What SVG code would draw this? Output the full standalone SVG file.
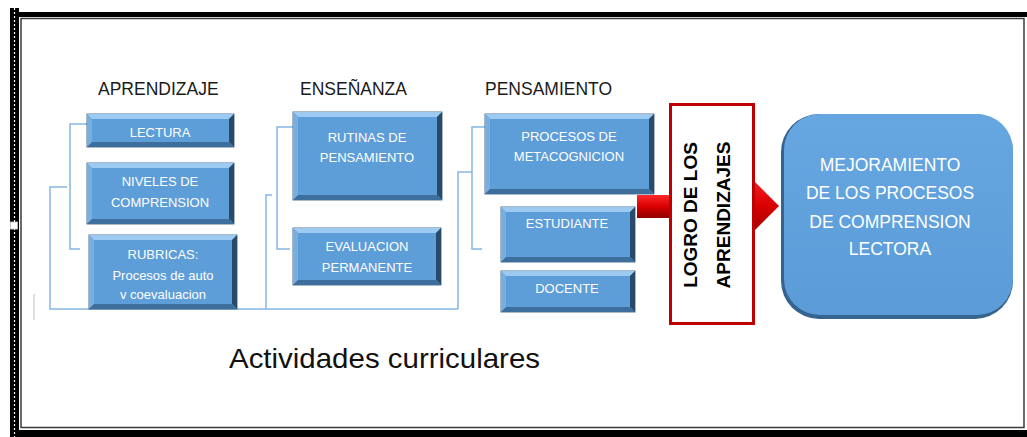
<svg xmlns="http://www.w3.org/2000/svg" width="1027" height="437" viewBox="0 0 1027 437">
<defs>
<linearGradient id="redV" x1="0" y1="0" x2="0" y2="1">
<stop offset="0" stop-color="#ff2a2a"/>
<stop offset="0.5" stop-color="#d80000"/>
<stop offset="1" stop-color="#900000"/>
</linearGradient>
<linearGradient id="bigFill" x1="0" y1="0" x2="0" y2="1">
<stop offset="0" stop-color="#66a7e2"/>
<stop offset="1" stop-color="#5b9cd8"/>
</linearGradient>
</defs>
<style>
.frame{fill:#000}
.face{fill:#5d9dd8;stroke:#2c5074;stroke-width:0.8}
.bt{fill:#9ccaf0}
.bl{fill:#78afe1}
.br{fill:#2a4a6b}
.bb{fill:#3e6e9c}
.wt{font-family:"Liberation Sans",Arial,sans-serif;font-size:13px;fill:#ffffff;text-anchor:middle}
.hd{font-family:"Liberation Sans",Arial,sans-serif;font-size:17.5px;fill:#1a1a1a}
.conn{fill:none;stroke:#86b6e2;stroke-width:1.5}
.big{font-family:"Liberation Sans",Arial,sans-serif;font-size:17.5px;fill:#ffffff;text-anchor:middle}
.logro{font-family:"Liberation Sans",Arial,sans-serif;font-size:19px;font-weight:bold;fill:#000;text-anchor:middle}
</style>
<rect x="0" y="0" width="1027" height="437" fill="#ffffff"/>
<g id="frame">
<rect class="frame" x="10" y="12" width="1017" height="5"/>
<rect class="frame" x="10" y="8" width="9" height="429"/>
<line x1="14.5" y1="8" x2="14.5" y2="437" stroke="#ffffff" stroke-width="1.2" stroke-dasharray="2,2"/>
<rect x="10.5" y="222" width="7" height="7" fill="#ffffff" stroke="#cccccc" stroke-width="0.8"/>
<rect x="21" y="18.5" width="1003" height="409" fill="#ffffff" stroke="#3a3a3a" stroke-width="1.5"/>
<rect class="frame" x="18" y="430" width="1009" height="7"/>
<line x1="34" y1="294" x2="34" y2="320" stroke="#bdbdbd" stroke-width="1"/>
</g>
<g id="headings">
<text class="hd" x="98" y="95">APRENDIZAJE</text>
<text class="hd" x="300" y="95">ENSEÑANZA</text>
<text class="hd" x="485" y="95">PENSAMIENTO</text>
<text x="229" y="368" font-family="Liberation Sans, Arial, sans-serif" font-size="28" fill="#111" textLength="311" lengthAdjust="spacingAndGlyphs">Actividades curriculares</text>
</g>
<g id="connectors">
<path class="conn" d="M87,124 H70 V249 H80"/>
<path class="conn" d="M67,187 H50 V309 H458"/>
<path class="conn" d="M293,127 H277 V249 H290"/>
<path class="conn" d="M272,195 H266 V309"/>
<path class="conn" d="M485,127 H472 V249 H482"/>
<path class="conn" d="M472,172 H458 V309"/>
<rect x="637" y="195" width="70" height="23" fill="url(#redV)"/>
<polygon points="745,172 779,206 745,240" fill="url(#redV)"/>
</g>
<g id="lectura">
<rect class="face" x="87" y="114" width="147" height="33"/>
<polygon class="bt" points="87,114 234,114 229,119 92,119"/>
<polygon class="bl" points="87,114 92,119 92,142 87,147"/>
<polygon class="br" points="234,114 234,147 229,142 229,119"/>
<polygon class="bb" points="87,147 234,147 229,142 92,142"/>
<text class="wt" x="160" y="137">LECTURA</text>
</g>
<g id="niveles">
<rect class="face" x="87" y="163" width="147" height="61"/>
<polygon class="bt" points="87,163 234,163 229,168 92,168"/>
<polygon class="bl" points="87,163 92,168 92,219 87,224"/>
<polygon class="br" points="234,163 234,224 229,219 229,168"/>
<polygon class="bb" points="87,224 234,224 229,219 92,219"/>
<text class="wt" x="160" y="186">NIVELES DE</text>
<text class="wt" x="160" y="207">COMPRENSION</text>
</g>
<g id="rubricas">
<rect class="face" x="89" y="235" width="148" height="74"/>
<polygon class="bt" points="89,235 237,235 232,240 94,240"/>
<polygon class="bl" points="89,235 94,240 94,304 89,309"/>
<polygon class="br" points="237,235 237,309 232,304 232,240"/>
<polygon class="bb" points="89,309 237,309 232,304 94,304"/>
<text class="wt" x="163" y="259">RUBRICAS:</text>
<text class="wt" x="163" y="280" font-size="14">Procesos de auto</text>
<text class="wt" x="163" y="299" font-size="14">v coevaluacion</text>
</g>
<g id="rutinas">
<rect class="face" x="293" y="112" width="149" height="88"/>
<polygon class="bt" points="293,112 442,112 437,117 298,117"/>
<polygon class="bl" points="293,112 298,117 298,195 293,200"/>
<polygon class="br" points="442,112 442,200 437,195 437,117"/>
<polygon class="bb" points="293,200 442,200 437,195 298,195"/>
<text class="wt" x="367" y="142">RUTINAS  DE</text>
<text class="wt" x="367" y="162">PENSAMIENTO</text>
</g>
<g id="evaluacion">
<rect class="face" x="293" y="228" width="148" height="57"/>
<polygon class="bt" points="293,228 441,228 436,233 298,233"/>
<polygon class="bl" points="293,228 298,233 298,280 293,285"/>
<polygon class="br" points="441,228 441,285 436,280 436,233"/>
<polygon class="bb" points="293,285 441,285 436,280 298,280"/>
<text class="wt" x="367" y="251">EVALUACION</text>
<text class="wt" x="367" y="272">PERMANENTE</text>
</g>
<g id="procesos">
<rect class="face" x="485" y="114" width="169" height="80"/>
<polygon class="bt" points="485,114 654,114 649,119 490,119"/>
<polygon class="bl" points="485,114 490,119 490,189 485,194"/>
<polygon class="br" points="654,114 654,194 649,189 649,119"/>
<polygon class="bb" points="485,194 654,194 649,189 490,189"/>
<text class="wt" x="569" y="141">PROCESOS DE</text>
<text class="wt" x="569" y="161">METACOGNICION</text>
</g>
<g id="estudiante">
<rect class="face" x="501" y="207" width="134" height="55"/>
<polygon class="bt" points="501,207 635,207 630,212 506,212"/>
<polygon class="bl" points="501,207 506,212 506,257 501,262"/>
<polygon class="br" points="635,207 635,262 630,257 630,212"/>
<polygon class="bb" points="501,262 635,262 630,257 506,257"/>
<text class="wt" x="567" y="228">ESTUDIANTE</text>
</g>
<g id="docente">
<rect class="face" x="501" y="271" width="134" height="41"/>
<polygon class="bt" points="501,271 635,271 630,276 506,276"/>
<polygon class="bl" points="501,271 506,276 506,307 501,312"/>
<polygon class="br" points="635,271 635,312 630,307 630,276"/>
<polygon class="bb" points="501,312 635,312 630,307 506,307"/>
<text class="wt" x="567" y="293">DOCENTE</text>
</g>
<g id="logro">
<rect x="670.5" y="104.5" width="83" height="219" fill="#ffffff" stroke="#c00000" stroke-width="3"/>
<text class="logro" transform="translate(697,215) rotate(-90)" x="0" y="0">LOGRO DE LOS</text>
<text class="logro" transform="translate(730,215) rotate(-90)" x="0" y="0">APRENDIZAJES</text>
</g>
<g id="mejoramiento">
<rect x="781" y="114" width="232" height="205" rx="38" fill="#36648f"/>
<rect x="784" y="114" width="229" height="201" rx="36" fill="url(#bigFill)"/>
<text class="big" x="890" y="171">MEJORAMIENTO</text>
<text class="big" x="890" y="199">DE LOS PROCESOS</text>
<text class="big" x="890" y="228">DE COMPRENSION</text>
<text class="big" x="890" y="255">LECTORA</text>
</g>
</svg>
